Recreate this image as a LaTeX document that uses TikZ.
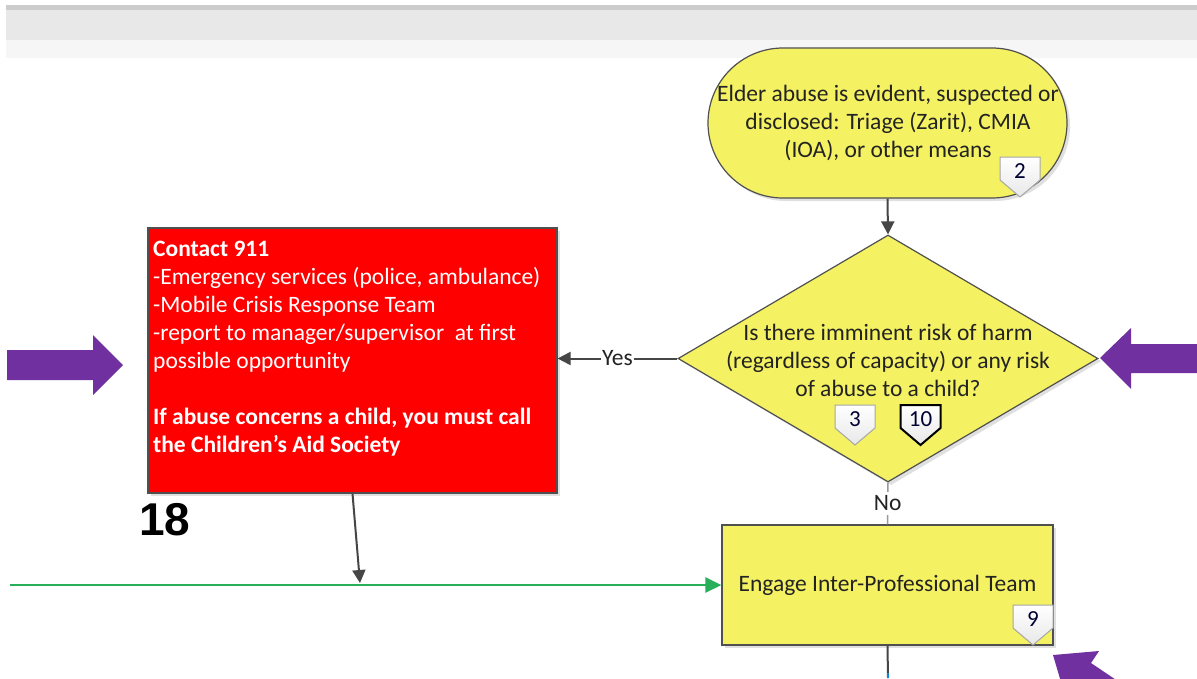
\documentclass[tikz,border=0pt]{standalone}
\usepackage{fontspec}
\setmainfont{Carlito}
\newfontfamily\arialfont{Liberation Sans}
\usetikzlibrary{shapes.geometric,shapes.misc,arrows.meta,calc}
\definecolor{flowyellow}{RGB}{244,241,98}
\definecolor{edgegray}{RGB}{80,80,80}
\definecolor{linegray}{RGB}{70,70,70}
\definecolor{flowgreen}{RGB}{38,176,90}
\definecolor{flowpurple}{RGB}{112,48,160}
\definecolor{textdark}{RGB}{35,35,35}
\tikzset{
  shapebox/.style={draw=edgegray, line width=1.2pt, fill=flowyellow, inner sep=0pt, text=textdark},
  flowtext/.style={font=\fontsize{23.5}{28}\selectfont, text=textdark, align=center, inner sep=0pt},
  conn/.style={draw=linegray, line width=2pt},
  connarrow/.style={conn, -{Triangle[length=13pt,width=13pt]}},
  greenarrow/.style={draw=flowgreen, line width=2.8pt, -{Triangle[length=16pt,width=15pt]}},
  tagline/.style={draw=gray!70, line width=1pt, top color=white, bottom color=gray!18},
  tagtext/.style={font=\fontsize{23}{24}\selectfont, text=black!80!blue, inner sep=0pt},
  bigarrow/.style={fill=flowpurple, draw=none},
  shadowfill/.style={fill=black, opacity=0.12, draw=none},
  edgelabel/.style={fill=white, font=\fontsize{23.5}{24}\selectfont, text=textdark},
}
% tag: name, x, y (top), text, extra style
\newcommand\numtag[5]{%
  \draw[tagline,#5] (#2-20,#3) -- (#2+20,#3) -- (#2+20,#3+23) -- (#2,#3+40) -- (#2-20,#3+23) -- cycle;
  \node[tagtext] (#1) at (#2,#3+14) {#4};
}
\begin{document}
\begin{tikzpicture}[x=1pt,y=-1pt]
\useasboundingbox (0,0) rectangle (1197,678);
\fill[white] (0,0) rectangle (1197,678);
% top band
\fill[gray!40] (6,5) rectangle (1197,10);
\fill[gray!18] (6,10) rectangle (1197,40);
\fill[gray!7] (6,40) rectangle (1197,58);

% shadows
\fill[shadowfill, rounded corners=75pt] (711,51) rectangle (1070,201);
\fill[shadowfill] (681,361) -- (891,238) -- (1101,361) -- (891,485) -- cycle;
\fill[shadowfill] (151,231) rectangle (560,496);
\fill[shadowfill] (725,528) rectangle (1056,648);

% start terminal
\node[shapebox, shape=rounded rectangle, minimum width=359pt, minimum height=150pt] (term) at (887.5,123) {};
\node[flowtext] (termtext) at (888,123)
  {Elder abuse is evident, suspected or\\ disclosed: Triage (Zarit), CMIA\\ (IOA), or other means};
\numtag{tagtwo}{1020}{157}{2}{}

% decision diamond
\node[shapebox, shape=diamond, minimum width=420pt, minimum height=247pt] (dia) at (888,358.5) {};
\node[flowtext] (diatext) at (888,360)
  {Is there imminent risk of harm\\ (regardless of capacity) or any risk\\ of abuse to a child?};
\numtag{tagthree}{855}{405}{3}{}
\numtag{tagten}{920.5}{405}{10}{draw=black, line width=2pt}

% red action box
\node[draw=edgegray, line width=1.2pt, fill=red, minimum width=409pt, minimum height=265pt, inner sep=0pt]
  (redbox) at (352.5,360.5) {};
\node[anchor=north west, align=left, text=white, font=\fontsize{23.5}{28}\selectfont, inner sep=0pt]
  (redtext) at (153,241)
  {\textbf{Contact 911}\\
   -Emergency services (police, ambulance)\\
   -Mobile Crisis Response Team\\
   -report to manager/supervisor\ \ at first\\
   possible opportunity\\[28pt]
   \textbf{If abuse concerns a child, you must call}\\
   \textbf{the Children’s Aid Society}};
\node[font=\arialfont\bfseries\fontsize{46}{50}\selectfont, inner sep=0pt] (eighteen) at (165,520) {18};

% engage box
\node[shapebox, minimum width=331pt, minimum height=120pt, flowtext] (eng) at (887.5,585)
  {Engage Inter-Professional Team};
\numtag{tagnine}{1033}{605}{9}{}

% connectors
\draw[connarrow] (term.south) -- (dia.north);
\draw[connarrow] (dia.west) -- node[edgelabel, inner sep=1pt] (yeslabel) {Yes} (dia.west -| redbox.east);
\draw[draw=gray!80, line width=1.5pt] (dia.south) -- node[edgelabel, inner sep=4pt] (nolabel) {No} (eng.north);
\coordinate (gstart) at (10,585);
\coordinate (gmeet) at (360,583);
\draw[greenarrow] (gstart) -- (eng.west);
\draw[connarrow] (redbox.south) -- (gmeet);
\coordinate (downend) at (888,678);
\draw[conn] (eng.south) -- (downend);
\draw[draw=cyan!70!blue, line width=2.5pt] (888,673) -- (downend);

% purple pointer arrows
\fill[bigarrow] (7,350) -- (93,350) -- (93,335) -- (123,365) -- (93,395) -- (93,380) -- (7,380) -- cycle;
\fill[bigarrow] (1197,344) -- (1131,344) -- (1131,328) -- (1100,358) -- (1131,389) -- (1131,373) -- (1197,373) -- cycle;
\begin{scope}
\clip (0,0) rectangle (1197,678);
\fill[bigarrow] (1053,655) -- (1099,651) -- (1091,663) -- (1174,719) -- (1157,743) -- (1074,687) -- (1066,699) -- cycle;
\end{scope}
\end{tikzpicture}
\end{document}
